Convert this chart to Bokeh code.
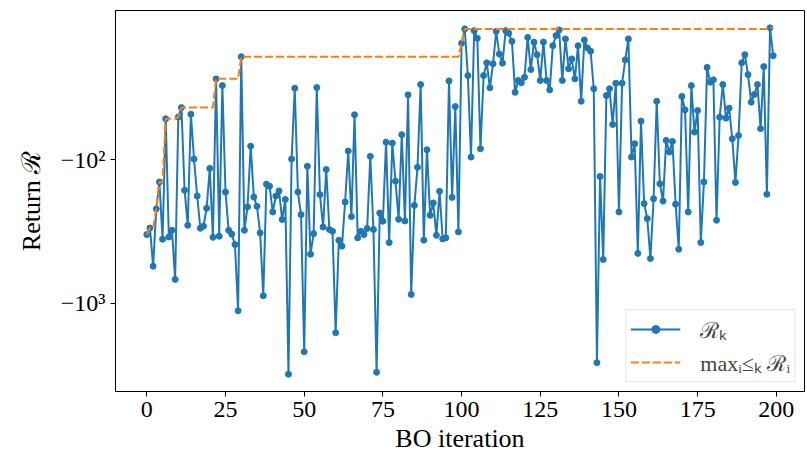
import numpy as np
from bokeh.plotting import figure
from bokeh.models import Range1d, FixedTicker
from bokeh.embed import file_html
from bokeh.resources import INLINE

iterations = list(range(200))
returns = [
    -332, -299, -551, -220, -143, -358, -51.9, -345, -310, -681,
    -50.6, -43.4, -163, -286, -48.2, -99.0, -179, -300, -290, -218,
    -115, -347, -27.4, -341, -30.5, -168, -310, -330, -389, -1125,
    -19.2, -310, -213, -80.5, -182, -211, -323, -885, -148, -153,
    -231, -179, -165, -261, -189, -3110, -99.0, -31.8, -168, -241,
    -2170, -111, -455, -327, -31.5, -175, -294, -117, -306, -315,
    -1600, -363, -400, -197, -87.1, -249, -48.7, -350, -315, -332,
    -301, -94.8, -306, -3015, -235, -268, -75.5, -377, -76.7, -141,
    -260, -67.0, -267, -35.4, -866, -208, -113, -30.0, -363, -85.3,
    -244, -200, -336, -166, -356, -350, -28.3, -183, -42.7, -318,
    -15.5, -12.3, -26.0, -95.9, -12.65, -14.3, -83.9, -26.0, -21.2, -31.6,
    -21.5, -12.8, -18.4, -21.3, -12.65, -13.2, -15.0, -34.0, -28.1, -29.2,
    -26.7, -14.1, -23.6, -15.2, -18.6, -28.1, -15.2, -28.1, -32.7, -16.1,
    -13.7, -12.5, -28.1, -14.45, -23.3, -19.9, -27.4, -16.1, -39.2, -14.7,
    -16.7, -17.6, -32.1, -2585, -131, -495, -35.8, -32.1, -56.9, -29.4,
    -231, -29.4, -20.2, -14.45, -95.9, -77.4, -449, -53.9, -202, -257,
    -487, -187, -39.2, -147, -194, -73.4, -88.5, -74.6, -204, -420,
    -36.3, -45.0, -231, -30.5, -64.3, -45.5, -377, -143, -22.8, -28.9,
    -27.8, -264, -50.6, -30.0, -51.4, -43.8, -71.5, -144, -67.8, -21.2,
    -18.6, -25.6, -39.8, -35.2, -30.0, -60.9, -22.5, -174, -12.1, -18.9,
]
x_ticks = [0, 25, 50, 75, 100, 125, 150, 175, 200]
y_ticks = [100, 1000]
y_tick_labels = {100: "\u221210\u00b2", 1000: "\u221210\u00b3"}
series_labels = ["\u211b\u2096", "max\u1d62\u2264\u2096 \u211b\u1d62"]

# plotted on a log axis of magnitude (axis reversed), labelled as negative values
best = np.maximum.accumulate(np.array(returns, dtype=float))
mag = [-r for r in returns]
best_mag = (-best).tolist()

BLUE = "#1f77b4"
ORANGE = "#ff7f0e"
FONT = "Liberation Serif"

p = figure(width=806, height=459, output_backend="svg", toolbar_location=None,
           y_axis_type="log",
           x_range=Range1d(-9.95, 208.95),
           y_range=Range1d(10 ** 3.613, 10 ** 0.962))
p.min_border_left = 115
p.min_border_right = 2
p.min_border_top = 10
p.min_border_bottom = 68

p.line(iterations, mag, line_color=BLUE, line_width=2, legend_label=series_labels[0])
p.scatter(iterations, mag, size=6, fill_color=BLUE, line_color=BLUE, legend_label=series_labels[0])
p.line(iterations, best_mag, line_color=ORANGE, line_width=2, line_dash="8 3",
       legend_label=series_labels[1])

p.xgrid.visible = False
p.ygrid.visible = False
p.outline_line_color = "black"
p.outline_line_width = 1
p.background_fill_color = "white"

p.xaxis.ticker = FixedTicker(ticks=x_ticks, minor_ticks=[])
p.yaxis.ticker = FixedTicker(ticks=y_ticks, minor_ticks=[])
p.yaxis.major_label_overrides = y_tick_labels
p.xaxis.axis_label = "BO iteration"
p.yaxis.axis_label = "Return \u211b"

for ax in (p.xaxis[0], p.yaxis[0]):
    ax.major_label_text_font = FONT
    ax.major_label_text_font_size = "24px"
    ax.major_label_text_color = "black"
    ax.axis_label_text_font = FONT
    ax.axis_label_text_font_size = "26px"
    ax.axis_label_text_font_style = "normal"
    ax.axis_label_text_color = "black"
    ax.major_tick_out = 5
    ax.major_tick_in = 0
    ax.minor_tick_out = 0
    ax.minor_tick_in = 0
    ax.axis_line_color = "black"
    ax.major_tick_line_color = "black"
    ax.major_label_standoff = 5
p.yaxis.axis_label_standoff = 12
p.xaxis.axis_label_standoff = 4

lg = p.legend[0]
lg.location = "bottom_right"
lg.margin = 9
lg.label_text_font = FONT
lg.label_text_font_size = "22px"
lg.glyph_width = 50
lg.glyph_height = 20
lg.label_height = 20
lg.label_standoff = 20
lg.spacing = 3
lg.padding = 4
lg.border_line_color = "#cccccc"
lg.border_line_width = 1
lg.background_fill_alpha = 0.8

open("out.html", "w").write(file_html(p, INLINE))
